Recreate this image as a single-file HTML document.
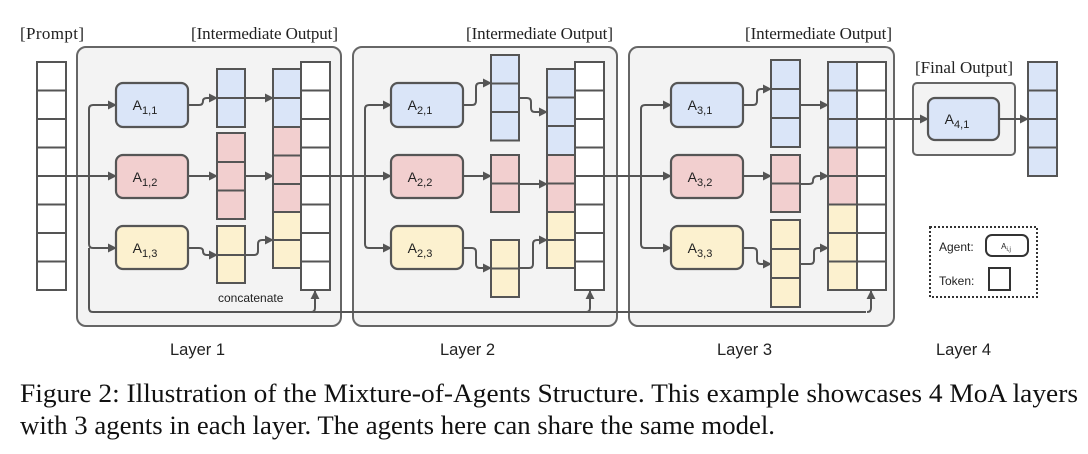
<!DOCTYPE html>
<html><head><meta charset="utf-8"><style>
body{margin:0;background:#fff;width:1088px;height:454px;overflow:hidden}
svg{display:block}
.s{font-family:"Liberation Serif",serif;font-size:17px;fill:#222}
.l{font-family:"Liberation Sans",sans-serif;font-size:16.5px;fill:#222}
.a{font-family:"Liberation Sans",sans-serif;font-size:14px;fill:#222}
.c{font-family:"Liberation Serif",serif;font-size:26px;fill:#111}
</style></head><body>
<svg width="1088" height="454" viewBox="0 0 1088 454" xmlns="http://www.w3.org/2000/svg">
<defs>
<marker id="ar" viewBox="0 0 10 10" refX="9" refY="5" markerWidth="4.5" markerHeight="4.5" orient="auto"><path d="M0,0L10,5L0,10z" fill="#555"/></marker>
</defs>
<g class="s">
<text x="20" y="39" textLength="64">[Prompt]</text>
<text x="191" y="39" textLength="147">[Intermediate Output]</text>
<text x="466" y="39" textLength="147">[Intermediate Output]</text>
<text x="745" y="39" textLength="147">[Intermediate Output]</text>
<text x="915" y="73" textLength="98">[Final Output]</text>
</g>
<g fill="#f3f3f3" stroke="#666" stroke-width="2">
<rect x="77" y="47" width="264" height="279" rx="9"/>
<rect x="353" y="47" width="264" height="279" rx="9"/>
<rect x="629" y="47" width="265" height="279" rx="9"/>
<rect x="913" y="83" width="102" height="72" rx="4"/>
</g>
<!-- connectors (under boxes) -->
<g fill="none" stroke="#555" stroke-width="2">
<path d="M45,176H89"/><path d="M330,176H365"/><path d="M604,176H641"/>
<path d="M89,176V109Q89,105 93,105H116" marker-end="url(#ar)"/><path d="M89,176H116" marker-end="url(#ar)"/><path d="M89,176V244Q89,248 93,248H116" marker-end="url(#ar)"/>
<path d="M89,248V308Q89,312 93,312H866"/>
<path d="M311,312Q315,312 315,308V291" marker-end="url(#ar)"/>
<path d="M586,312Q590,312 590,308V291" marker-end="url(#ar)"/>
<path d="M867,312Q871,312 871,308V291" marker-end="url(#ar)"/>
<path d="M188,105H199Q203,105 203,101Q203,98 207,98H217" marker-end="url(#ar)"/>
<path d="M217,98H273" marker-end="url(#ar)"/><path d="M273,98H301"/>
<path d="M188,176H217" marker-end="url(#ar)"/><path d="M217,176H273" marker-end="url(#ar)"/><path d="M273,176H301"/>
<path d="M188,248H199Q203,248 203,251Q203,255 207,255H217" marker-end="url(#ar)"/>
<path d="M217,255H254Q258,255 258,251V244Q258,240 262,240H273" marker-end="url(#ar)"/>
<path d="M365,176V109Q365,105 369,105H391" marker-end="url(#ar)"/><path d="M365,176H391" marker-end="url(#ar)"/><path d="M365,176V244Q365,248 369,248H391" marker-end="url(#ar)"/>
<path d="M463,105H472Q476,105 476,101V87Q476,83 480,83H491" marker-end="url(#ar)"/>
<path d="M519,98H527Q531,98 531,102V108Q531,112 535,112H547" marker-end="url(#ar)"/>
<path d="M463,176H491" marker-end="url(#ar)"/>
<path d="M491,184H547" marker-end="url(#ar)"/>
<path d="M463,248H472Q476,248 476,252V264Q476,268 480,268H491" marker-end="url(#ar)"/>
<path d="M491,268H529Q533,268 533,264V244Q533,240 537,240H547" marker-end="url(#ar)"/>
<path d="M641,176V109Q641,105 645,105H671" marker-end="url(#ar)"/><path d="M641,176H671" marker-end="url(#ar)"/><path d="M641,176V244Q641,248 645,248H671" marker-end="url(#ar)"/>
<path d="M743,105H753Q757,105 757,101V93Q757,89 761,89H771" marker-end="url(#ar)"/>
<path d="M800,105H828" marker-end="url(#ar)"/>
<path d="M743,176H771" marker-end="url(#ar)"/>
<path d="M771,184H809Q813,184 813,181Q813,176 818,176H828" marker-end="url(#ar)"/>
<path d="M743,248H753Q757,248 757,252V260Q757,264 761,264H771" marker-end="url(#ar)"/>
<path d="M800,264H810Q814,264 814,260V252Q814,248 818,248H828" marker-end="url(#ar)"/>
</g>
<g stroke="#555" stroke-width="2">
<g fill="#fff">
<rect x="37" y="62" width="29" height="28.5"/><rect x="37" y="90.5" width="29" height="28.5"/><rect x="37" y="119" width="29" height="28.5"/><rect x="37" y="147.5" width="29" height="28.5"/><rect x="37" y="176" width="29" height="28.5"/><rect x="37" y="204.5" width="29" height="28.5"/><rect x="37" y="233" width="29" height="28.5"/><rect x="37" y="261.5" width="29" height="28.5"/>
<rect x="301" y="62" width="29" height="28.5"/><rect x="301" y="90.5" width="29" height="28.5"/><rect x="301" y="119" width="29" height="28.5"/><rect x="301" y="147.5" width="29" height="28.5"/><rect x="301" y="176" width="29" height="28.5"/><rect x="301" y="204.5" width="29" height="28.5"/><rect x="301" y="233" width="29" height="28.5"/><rect x="301" y="261.5" width="29" height="28.5"/>
<rect x="575" y="62" width="29" height="28.5"/><rect x="575" y="90.5" width="29" height="28.5"/><rect x="575" y="119" width="29" height="28.5"/><rect x="575" y="147.5" width="29" height="28.5"/><rect x="575" y="176" width="29" height="28.5"/><rect x="575" y="204.5" width="29" height="28.5"/><rect x="575" y="233" width="29" height="28.5"/><rect x="575" y="261.5" width="29" height="28.5"/>
<rect x="857" y="62" width="29" height="28.5"/><rect x="857" y="90.5" width="29" height="28.5"/><rect x="857" y="119" width="29" height="28.5"/><rect x="857" y="147.5" width="29" height="28.5"/><rect x="857" y="176" width="29" height="28.5"/><rect x="857" y="204.5" width="29" height="28.5"/><rect x="857" y="233" width="29" height="28.5"/><rect x="857" y="261.5" width="29" height="28.5"/>
</g>
<g fill="#dae5f8"><rect x="217" y="69" width="28" height="29"/><rect x="217" y="98" width="28" height="29"/>
<rect x="273" y="69" width="28" height="29"/><rect x="273" y="98" width="28" height="29"/></g>
<g fill="#f2cfcf"><rect x="217" y="133" width="28" height="29"/><rect x="217" y="162" width="28" height="28.5"/><rect x="217" y="190.5" width="28" height="28.5"/>
<rect x="273" y="127" width="28" height="28.5"/><rect x="273" y="155.5" width="28" height="28.5"/><rect x="273" y="184" width="28" height="28"/></g>
<g fill="#fcf1cf"><rect x="217" y="226" width="28" height="29"/><rect x="217" y="255" width="28" height="28"/>
<rect x="273" y="212" width="28" height="28"/><rect x="273" y="240" width="28" height="28"/></g>
<g fill="#dae5f8"><rect x="491" y="55" width="28" height="28.5"/><rect x="491" y="83.5" width="28" height="28.5"/><rect x="491" y="112" width="28" height="28.5"/>
<rect x="547" y="69" width="28" height="28.5"/><rect x="547" y="97.5" width="28" height="28.5"/><rect x="547" y="126" width="28" height="29"/></g>
<g fill="#f2cfcf"><rect x="491" y="155" width="28" height="28.5"/><rect x="491" y="183.5" width="28" height="28.5"/>
<rect x="547" y="155" width="28" height="28.5"/><rect x="547" y="183.5" width="28" height="28.5"/></g>
<g fill="#fcf1cf"><rect x="491" y="240" width="28" height="28.5"/><rect x="491" y="268.5" width="28" height="28.5"/>
<rect x="547" y="212" width="28" height="28"/><rect x="547" y="240" width="28" height="28"/></g>
<g fill="#dae5f8"><rect x="771" y="60" width="29" height="29"/><rect x="771" y="89" width="29" height="29"/><rect x="771" y="118" width="29" height="29"/>
<rect x="828" y="62" width="29" height="28.5"/><rect x="828" y="90.5" width="29" height="28.5"/><rect x="828" y="119" width="29" height="28.5"/></g>
<g fill="#f2cfcf"><rect x="771" y="155" width="29" height="28.5"/><rect x="771" y="183.5" width="29" height="28.5"/>
<rect x="828" y="147.5" width="29" height="28.5"/><rect x="828" y="176" width="29" height="28.5"/></g>
<g fill="#fcf1cf"><rect x="771" y="220" width="29" height="29"/><rect x="771" y="249" width="29" height="29"/><rect x="771" y="278" width="29" height="29"/>
<rect x="828" y="204.5" width="29" height="28.5"/><rect x="828" y="233" width="29" height="28.5"/><rect x="828" y="261.5" width="29" height="28.5"/></g>
<g fill="#dae5f8"><rect x="1028" y="62" width="29" height="28.5"/><rect x="1028" y="90.5" width="29" height="28.5"/><rect x="1028" y="119" width="29" height="28.5"/><rect x="1028" y="147.5" width="29" height="28.5"/></g>
<g stroke-width="2.2">
<rect x="116" y="83" width="72" height="44" rx="7" fill="#dae5f8"/><rect x="116" y="155" width="72" height="43" rx="7" fill="#f2cfcf"/><rect x="116" y="226" width="72" height="43" rx="7" fill="#fcf1cf"/>
<rect x="391" y="83" width="72" height="44" rx="7" fill="#dae5f8"/><rect x="391" y="155" width="72" height="43" rx="7" fill="#f2cfcf"/><rect x="391" y="226" width="72" height="43" rx="7" fill="#fcf1cf"/>
<rect x="671" y="83" width="72" height="44" rx="7" fill="#dae5f8"/><rect x="671" y="155" width="72" height="43" rx="7" fill="#f2cfcf"/><rect x="671" y="226" width="72" height="43" rx="7" fill="#fcf1cf"/>
<rect x="928" y="98" width="71" height="42" rx="7" fill="#dae5f8"/>
</g>
<rect x="930" y="227" width="107" height="70" fill="#fff" stroke="#333" stroke-width="2" stroke-dasharray="2,2"/>
<rect x="986" y="235" width="42" height="21" rx="6" fill="#fff" stroke="#333" stroke-width="2"/>
<rect x="989" y="268" width="21" height="22" fill="#fff" stroke="#333" stroke-width="2"/>
</g>
<g fill="none" stroke="#555" stroke-width="2">
<path d="M828,119H928" marker-end="url(#ar)"/>
<path d="M999,119H1028" marker-end="url(#ar)"/>
</g>
<g class="a" text-anchor="middle">
<text x="145" y="110">A<tspan font-size="11" dy="4">1,1</tspan></text>
<text x="145" y="182">A<tspan font-size="11" dy="4">1,2</tspan></text>
<text x="145" y="253">A<tspan font-size="11" dy="4">1,3</tspan></text>
<text x="420" y="110">A<tspan font-size="11" dy="4">2,1</tspan></text>
<text x="420" y="182">A<tspan font-size="11" dy="4">2,2</tspan></text>
<text x="420" y="253">A<tspan font-size="11" dy="4">2,3</tspan></text>
<text x="700" y="110">A<tspan font-size="11" dy="4">3,1</tspan></text>
<text x="700" y="182">A<tspan font-size="11" dy="4">3,2</tspan></text>
<text x="700" y="253">A<tspan font-size="11" dy="4">3,3</tspan></text>
<text x="957" y="124">A<tspan font-size="11" dy="4">4,1</tspan></text>
<text x="1006" y="249" font-size="8">A<tspan font-size="6" dy="2">i,j</tspan></text>
</g>
<text x="218" y="302" font-family="Liberation Sans,sans-serif" font-size="12" fill="#222">concatenate</text>
<text x="939" y="251" font-family="Liberation Sans,sans-serif" font-size="12" fill="#222">Agent:</text>
<text x="939" y="285" font-family="Liberation Sans,sans-serif" font-size="12" fill="#222">Token:</text>
<g class="l"><text x="170" y="355">Layer 1</text><text x="440" y="355">Layer 2</text><text x="717" y="355">Layer 3</text><text x="936" y="355">Layer 4</text></g>
<text class="c" x="20" y="402" textLength="1058" lengthAdjust="spacingAndGlyphs">Figure 2: Illustration of the Mixture-of-Agents Structure. This example showcases 4 MoA layers</text>
<text class="c" x="20" y="434" textLength="755" lengthAdjust="spacingAndGlyphs">with 3 agents in each layer. The agents here can share the same model.</text>
</svg>
</body></html>
